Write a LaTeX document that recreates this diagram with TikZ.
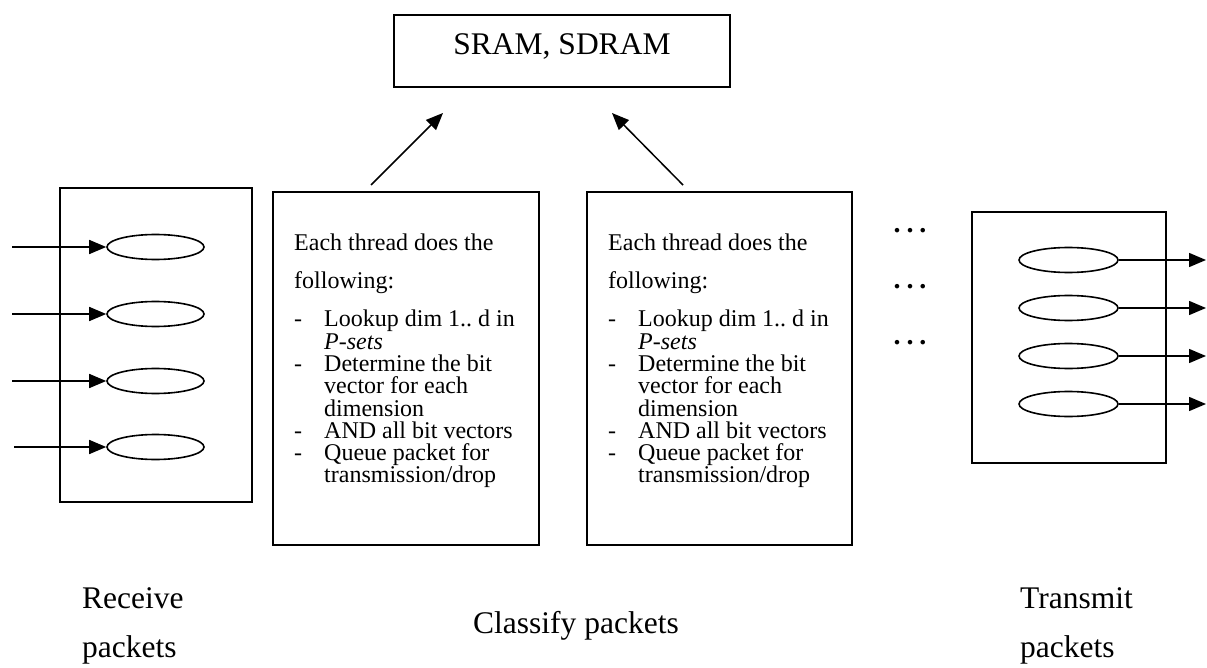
\documentclass[tikz,border=0pt]{standalone}
\usepackage{fontspec}
\setmainfont{Liberation Serif}
\usetikzlibrary{arrows.meta,shapes.geometric}
\newcommand{\threadtext}{Each thread does the\\[15.7pt]
following:\\[15.7pt]
\makebox[30pt][l]{-}Lookup dim 1..\ d in\\
\hspace*{30pt}\textit{P-sets}\\
\makebox[30pt][l]{-}Determine the bit\\
\hspace*{30pt}vector for each\\
\hspace*{30pt}dimension\\
\makebox[30pt][l]{-}AND all bit vectors\\
\makebox[30pt][l]{-}Queue packet for\\
\hspace*{30pt}transmission/drop}
\begin{document}
\begin{tikzpicture}[x=1pt,y=-1pt,
  box/.style={draw,line width=1.8pt,inner sep=0pt},
  port/.style={draw,ellipse,line width=1.6pt,minimum height=25pt,inner sep=0pt},
  link/.style={line width=1.5pt,-{Triangle[length=17pt,width=14pt]}},
  big/.style={font=\fontsize{31.5}{40}\selectfont,inner sep=0pt,anchor=base west},
  body/.style={font=\fontsize{24}{22.3}\selectfont,align=left,inner sep=0pt,anchor=north west},
  dotrow/.style={font=\fontsize{28}{28}\selectfont\bfseries,inner sep=0pt,anchor=base},
]
\useasboundingbox (0,0) rectangle (1207,668);

% memory
\node[box,minimum width=336pt,minimum height=72pt] (mem) at (562,51) {};
\node[font=\fontsize{31.5}{40}\selectfont,inner sep=0pt,anchor=base] (memt) at (562,55) {SRAM, SDRAM};

% receive block
\node[box,minimum width=192pt,minimum height=314pt] (rx) at (156,345) {};
\foreach \i/\y/\sx in {1/247/12,2/314/12,3/381/12,4/447/14}{
  \node[port,minimum width=97pt] (r\i) at (155.5,\y) {};
  \coordinate (rs\i) at (\sx,\y);
  \draw[link] (rs\i) -- (r\i.west);
}

% classify blocks
\node[box,minimum width=266pt,minimum height=353pt] (c1) at (406,368.5) {};
\node[box,minimum width=265pt,minimum height=353pt] (c2) at (719.5,368.5) {};
\node[body] (t1) at (294,234) {\threadtext};
\node[body] (t2) at (608,234) {\threadtext};

% arrows to memory
\coordinate (a1s) at (371,185);
\coordinate (a1e) at (443,113);
\coordinate (a2s) at (683,185);
\coordinate (a2e) at (612,113);
\draw[link] (a1s) -- (a1e);
\draw[link] (a2s) -- (a2e);

% ellipsis dots
\node[dotrow] (d1) at (910,233) {.\hspace{6pt}.\hspace{6pt}.};
\node[dotrow] (d2) at (910,289) {.\hspace{6pt}.\hspace{6pt}.};
\node[dotrow] (d3) at (910,344) {.\hspace{6pt}.\hspace{6pt}.};

% transmit block
\node[box,minimum width=194pt,minimum height=251pt] (tx) at (1069,337.5) {};
\foreach \i/\y in {1/260,2/308,3/356,4/404}{
  \node[port,minimum width=99pt] (x\i) at (1068.5,\y) {};
  \coordinate (xe\i) at (1206,\y);
  \draw[link] (x\i.east) -- (xe\i);
}

% labels
\node[big] (lr1) at (82,608) {Receive};
\node[big] (lr2) at (82,657) {packets};
\node[big] (lc) at (473,633) {Classify packets};
\node[big] (lt1) at (1020,608) {Transmit};
\node[big] (lt2) at (1020,657) {packets};
\end{tikzpicture}
\end{document}
